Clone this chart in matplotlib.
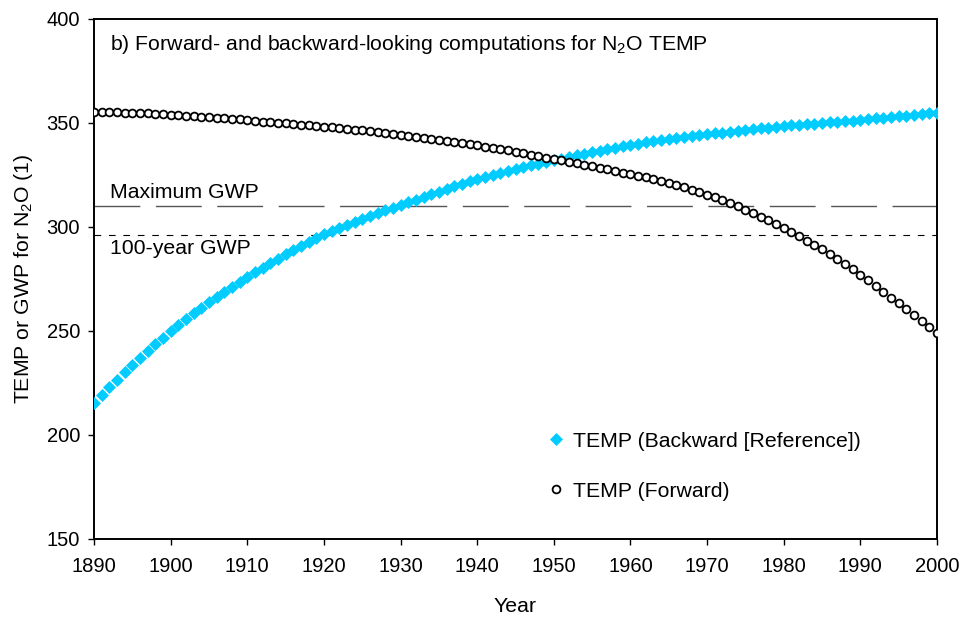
import matplotlib
matplotlib.use("Agg")
import matplotlib.pyplot as plt
import numpy as np

plt.rcParams['font.family'] = ['Liberation Sans', 'DejaVu Sans']
plt.rcParams['mathtext.fontset'] = 'custom'
plt.rcParams['mathtext.rm'] = 'Liberation Sans'
plt.rcParams['lines.scale_dashes'] = False

years = list(range(1890, 2001))

temp_backward = [
    215.5, 219.3, 223.0, 226.6, 230.1, 233.6, 237.0, 240.3, 243.6, 246.8,
    250.0, 252.9, 255.7, 258.5, 261.2, 263.8, 266.3, 268.8, 271.3, 273.7,
    276.0, 278.3, 280.5, 282.6, 284.7, 286.8, 288.8, 290.7, 292.7, 294.6,
    296.5, 298.1, 299.6, 301.1, 302.6, 304.0, 305.4, 306.7, 308.0, 309.3,
    310.5, 311.9, 313.2, 314.5, 315.8, 317.0, 318.3, 319.5, 320.7, 321.9,
    323.0, 324.1, 325.1, 326.0, 327.0, 327.9, 328.8, 329.6, 330.4, 331.2,
    332.0, 332.9, 333.7, 334.5, 335.2, 336.0, 336.7, 337.4, 338.1, 338.8,
    339.5, 340.1, 340.7, 341.2, 341.7, 342.2, 342.7, 343.2, 343.7, 344.1,
    344.5, 345.0, 345.4, 345.8, 346.2, 346.6, 347.0, 347.4, 347.8, 348.2,
    348.5, 348.8, 349.1, 349.4, 349.7, 350.0, 350.3, 350.6, 350.9, 351.2,
    351.5, 351.9, 352.2, 352.6, 352.9, 353.3, 353.6, 354.0, 354.3, 354.7,
    355.0,
]

temp_forward = [
    355.4, 355.3, 355.2, 355.1, 355.0, 354.9, 354.7, 354.6, 354.4, 354.2,
    354.0, 353.8, 353.6, 353.4, 353.1, 352.9, 352.6, 352.3, 352.0, 351.7,
    351.3, 351.0, 350.7, 350.4, 350.1, 349.8, 349.5, 349.2, 348.9, 348.6,
    348.2, 347.9, 347.5, 347.2, 346.8, 346.4, 346.0, 345.6, 345.2, 344.8,
    344.3, 343.9, 343.4, 342.9, 342.4, 341.9, 341.4, 340.9, 340.4, 339.8,
    339.2, 338.6, 338.0, 337.4, 336.8, 336.1, 335.5, 334.8, 334.1, 333.4,
    332.6, 332.0, 331.3, 330.6, 329.9, 329.2, 328.5, 327.8, 327.0, 326.2,
    325.4, 324.6, 323.8, 322.9, 322.0, 321.0, 320.0, 319.0, 317.9, 316.8,
    315.6, 314.3, 312.9, 311.5, 310.0, 308.4, 306.7, 305.0, 303.3, 301.5,
    299.6, 297.7, 295.6, 293.5, 291.4, 289.2, 286.9, 284.5, 282.1, 279.6,
    277.0, 274.4, 271.7, 268.9, 266.1, 263.3, 260.5, 257.7, 254.8, 251.9,
    249.0,
]

max_gwp = 310
gwp_100 = 296

x_ticks = list(range(1890, 2001, 10))
y_ticks = [150, 200, 250, 300, 350, 400]

fig = plt.figure(figsize=(9.61, 6.18), dpi=100)
ax = fig.add_axes([94/961, 1 - 539/618, 843/961, 520/618])

fs = 15.3
tfs = 14.5

ax.axhline(max_gwp, color='#555555', lw=1.0, linestyle=(0, (33, 11.2)), zorder=1)
ax.axhline(gwp_100, color='black', lw=0.8, linestyle=(0, (4.8, 5.6)), zorder=1)

ax.plot(years, temp_backward, linestyle='none', marker='D', ms=6.0,
        color='#00CCFF', mec='#00CCFF', mew=0.5, zorder=3,
        label='TEMP (Backward [Reference])')
ax.plot(years, temp_forward, linestyle='none', marker='o', ms=5.6,
        mfc='white', mec='black', mew=1.3, zorder=4,
        label='TEMP (Forward)')

ax.set_xlim(1890, 2000)
ax.set_ylim(150, 400)
ax.set_xticks(x_ticks)
ax.set_yticks(y_ticks)
ax.tick_params(axis='both', direction='out', length=4, width=1, labelsize=tfs,
               top=False, right=False)
ax.tick_params(axis='x', pad=9)
ax.tick_params(axis='y', pad=6)
for s in ax.spines.values():
    s.set_linewidth(1.4)

ax.text(0.019, 0.95, r'b) Forward- and backward-looking computations for $\mathregular{N_2O}$ TEMP',
        transform=ax.transAxes, fontsize=fs, va='center', ha='left')
ax.text(0.019, 0.667, 'Maximum GWP', transform=ax.transAxes, fontsize=fs,
        va='center', ha='left')
ax.text(0.019, 0.558, '100-year GWP', transform=ax.transAxes, fontsize=fs,
        va='center', ha='left')

ax.set_xlabel('Year', fontsize=fs)
ax.set_ylabel(r'TEMP or GWP for $\mathregular{N_2O}$ (1)', fontsize=fs)
ax.xaxis.set_label_coords(0.5, -0.112)
ax.yaxis.set_label_coords(-0.070, 0.5)

leg = ax.legend(loc='center left', bbox_to_anchor=(0.5357, 0.14), frameon=False,
                fontsize=fs, handlelength=1.0, handletextpad=0.3, numpoints=1,
                labelspacing=1.45, borderpad=0, borderaxespad=0)

fig.savefig('out.png', dpi=100)
